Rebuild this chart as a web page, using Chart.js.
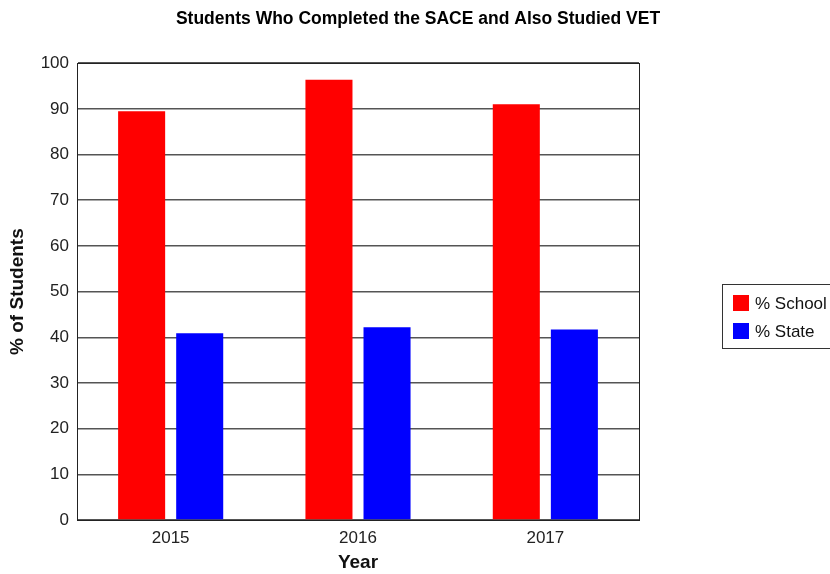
<!DOCTYPE html>
<html>
<head>
<meta charset="utf-8">
<script src="https://cdn.jsdelivr.net/npm/chart.js@4"></script>
<style>
    html, body { margin: 0; padding: 0; background: #fff; }
    #wrap { width: 830px; height: 574px; }
</style>
</head>
<body>
<div id="wrap"><canvas id="chart"></canvas></div>
<script>
const years = ['2015', '2016', '2017'];
const schoolPct = [89.5, 96.4, 91.0];
const statePct = [40.9, 42.2, 41.7];
const seriesNames = ['% School', '% State'];
const seriesColors = ['#ff0000', '#0000ff'];
const chartTitle = 'Students Who Completed the SACE and Also Studied VET';

const FONT = '"Liberation Sans", Arial, Helvetica, sans-serif';

// frame round the plot, title over the whole canvas, boxed legend on the right
const framePlugin = {
    id: 'frame',
    afterDraw: (chart) => {
        const ctx = chart.ctx;
        const a = chart.chartArea;
        ctx.save();
        ctx.strokeStyle = '#222';
        ctx.lineWidth = 1;
        ctx.strokeRect(Math.round(a.left) + 0.5, Math.round(a.top) + 0.5,
            Math.round(a.right - a.left), Math.round(a.bottom - a.top));

        ctx.fillStyle = '#000';
        ctx.font = 'bold 17.5px ' + FONT;
        ctx.textAlign = 'center';
        ctx.textBaseline = 'middle';
        ctx.fillText(chartTitle, 418, 19);

        // legend
        const lx = 722, ly = 284;
        ctx.strokeStyle = '#333';
        ctx.strokeRect(lx + 0.5, ly + 0.5, 120, 64);
        ctx.font = '17px ' + FONT;
        ctx.textAlign = 'left';
        chart.data.datasets.forEach((ds, i) => {
            const y = ly + 19 + i * 28;
            ctx.fillStyle = ds.backgroundColor;
            ctx.fillRect(lx + 11, y - 8, 16, 16);
            ctx.fillStyle = '#111';
            ctx.fillText(ds.label, lx + 33, y + 1);
        });
        ctx.restore();
    }
};

new Chart(document.getElementById('chart').getContext('2d'), {
    type: 'bar',
    data: {
        labels: years,
        datasets: [
            { label: seriesNames[0], data: schoolPct, backgroundColor: seriesColors[0] },
            { label: seriesNames[1], data: statePct, backgroundColor: seriesColors[1] }
        ]
    },
    options: {
        responsive: true,
        maintainAspectRatio: false,
        animation: false,
        barPercentage: 0.81,
        categoryPercentage: 0.62,
        layout: { padding: { left: 0, right: 191, top: 0, bottom: 0 } },
        plugins: {
            legend: { display: false },
            tooltip: { enabled: false },
            title: {
                // only reserves the space, the visible title is drawn in the plugin
                display: true,
                text: chartTitle,
                color: 'rgba(0,0,0,0)',
                font: { family: FONT, size: 16, weight: 'bold' },
                padding: { top: 8, bottom: 36 }
            }
        },
        scales: {
            x: {
                grid: { display: false },
                border: { color: '#222' },
                ticks: { color: '#222', font: { family: FONT, size: 17 }, padding: 0 },
                title: {
                    display: true,
                    text: 'Year',
                    color: '#111',
                    font: { family: FONT, size: 19, weight: 'bold' },
                    padding: { top: 12, bottom: 0 }
                },
                afterFit: (scale) => { scale.height = 54; }
            },
            y: {
                min: 0,
                max: 100,
                ticks: { stepSize: 10, color: '#222', font: { family: FONT, size: 17 }, padding: 8 },
                grid: { color: '#555', lineWidth: 1.5, drawTicks: false },
                border: { color: '#222' },
                title: {
                    display: true,
                    text: '% of Students',
                    color: '#111',
                    font: { family: FONT, size: 19, weight: 'bold' },
                    padding: { top: 6, bottom: 4 }
                },
                afterFit: (scale) => { scale.width = 77; }
            }
        }
    },
    plugins: [framePlugin]
});
</script>
</body>
</html>
